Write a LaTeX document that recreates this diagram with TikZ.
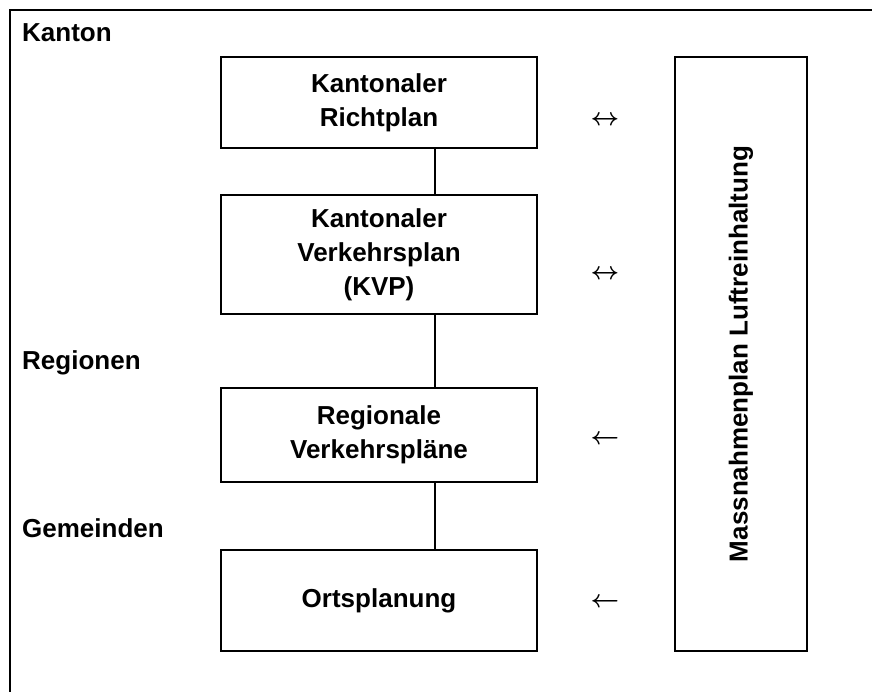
\documentclass[tikz,border=0pt]{standalone}
\usepackage{fontspec}
\setmainfont{Liberation Sans}
\usepackage{tikz}

\begin{document}
\begin{tikzpicture}
	[x=1pt, y=-1pt,
	planbox/.style={draw, line width=2.2pt, rectangle, inner sep=0pt,
		minimum width=316pt, align=center,
		font=\fontsize{26}{34}\selectfont\bfseries},
	level/.style={anchor=west, inner sep=0pt,
		font=\fontsize{26}{34}\selectfont\bfseries},
	relation/.style={inner sep=0pt, font=\fontsize{26}{34}\selectfont\boldmath}]

	\useasboundingbox (0,0) rectangle (872,692);
	% frame (cut off at right and bottom)
	\draw [line width=2.2pt] (872,10) -- (10,10) -- (10,692);

	\node [level] (kanton) at (22,33) {Kanton};
	\node [level] (regionen) at (22,363) {Regionen};
	\node [level] (gemeinden) at (22,528) {Gemeinden};

	\node [planbox, minimum height=91pt] (richtplan) at (379,102.5)
		{Kantonaler\\Richtplan};
	\node [planbox, minimum height=119pt] (kvp) at (379,254.5)
		{Kantonaler\\Verkehrsplan\\(KVP)};
	\node [planbox, minimum height=94pt] (regional) at (379,435)
		{Regionale\\Verkehrspläne};
	\node [planbox, minimum height=101pt] (orts) at (379,600.5)
		{Ortsplanung};

	\node [planbox, minimum width=132pt, minimum height=594pt] (luft) at (741,354) {};
	\node [rotate=90, inner sep=0pt, font=\fontsize{26}{34}\selectfont\bfseries]
		(lufttext) at (luft.center) {Massnahmenplan Luftreinhaltung};

	\draw [line width=1.7pt] ([xshift=56pt]richtplan.south) -- ([xshift=56pt]kvp.north);
	\draw [line width=1.7pt] ([xshift=56pt]kvp.south) -- ([xshift=56pt]regional.north);
	\draw [line width=1.7pt] ([xshift=56pt]regional.south) -- ([xshift=56pt]orts.north);

	\node [relation] (r1) at (605,121) {$\leftrightarrow$};
	\node [relation] (r2) at (605,275) {$\leftrightarrow$};
	\node [relation] (r3) at (605,440) {$\leftarrow$};
	\node [relation] (r4) at (605,603) {$\leftarrow$};
\end{tikzpicture}
\end{document}
